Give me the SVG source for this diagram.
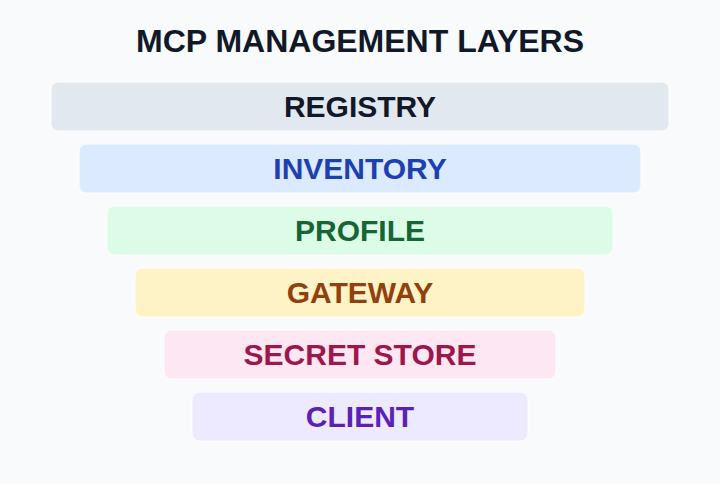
<svg xmlns="http://www.w3.org/2000/svg" width="720" height="484" viewBox="0 0 720 484">
<style>
text{font-family:"Liberation Sans",Arial,sans-serif;font-weight:bold;text-anchor:middle;dominant-baseline:central}
.t{font-size:32px;fill:#111827}
.l{font-size:30px}
rect{stroke:#ffffff;stroke-width:1.5;stroke-opacity:.6}
</style>
<rect x="0" y="0" width="720" height="484" fill="#f8fafc" style="stroke:none"/>
<text class="t" x="360" y="41">MCP MANAGEMENT LAYERS</text>
<g id="registry"><rect x="51" y="82" width="618" height="49" rx="7" fill="#e2e8f0"/><text class="l" x="360" y="106" fill="#111827">REGISTRY</text></g>
<g id="inventory"><rect x="79" y="144" width="562" height="49" rx="7" fill="#dbeafe"/><text class="l" x="360" y="168" fill="#1e40af">INVENTORY</text></g>
<g id="profile"><rect x="107" y="206" width="506" height="49" rx="7" fill="#dcfce7"/><text class="l" x="360" y="230" fill="#166534">PROFILE</text></g>
<g id="gateway"><rect x="135" y="268" width="450" height="49" rx="7" fill="#fef3c7"/><text class="l" x="360" y="292" fill="#92400e">GATEWAY</text></g>
<g id="secret"><rect x="164" y="330" width="392" height="49" rx="7" fill="#fce7f3"/><text class="l" x="360" y="354" fill="#9d174d">SECRET STORE</text></g>
<g id="client"><rect x="192" y="392" width="336" height="49" rx="7" fill="#ede9fe"/><text class="l" x="360" y="416" fill="#5b21b6">CLIENT</text></g>
<g id="connectors"/>
</svg>
